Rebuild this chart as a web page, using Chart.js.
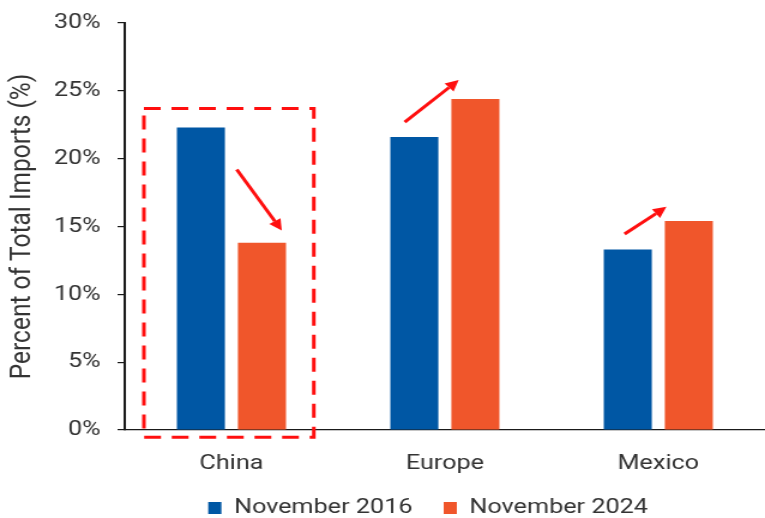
<!DOCTYPE html>
<html><head><meta charset="utf-8">
<script src="https://cdn.jsdelivr.net/npm/chart.js@4.4.1/dist/chart.umd.min.js"></script>
<style>
html,body{margin:0;padding:0;background:#fff;overflow:hidden;width:765px;height:518px}
#wrap{width:638px;height:518px;transform:scaleX(1.19906);transform-origin:0 0}
canvas{display:block}
</style></head><body>
<div id="wrap"><canvas id="c" width="638" height="518"></canvas></div>
<script>
// ---- data ----
const categories = ['China', 'Europe', 'Mexico'];
const seriesNames = ['November 2016', 'November 2024'];
const values2016 = [22.3, 21.6, 13.3];
const values2024 = [13.8, 24.4, 15.4];
const yTickValues = [0, 5, 10, 15, 20, 25, 30];
const arrowFromValues = [19.2, 22.7, 14.45];
const arrowToValues = [14.7, 25.8, 16.45];
const highlighted = 'China';

// ---- layout / style ----
const H = 518, PLOT_TOP = 23, PLOT_BOTTOM = 430, Y_AXIS_W = 104;
const BLUE = '#0057a4', ORANGE = '#f0562b', RED = '#ff0f0f', TEXT = '#333333', AXIS = '#1a1a1a';
const FONT = 'Roboto, "Noto Sans", sans-serif';
const arrowOffsets = [[0.025, 0.236], [-0.188, 0.065], [-0.158, 0.038]];

function drawArrow(ctx, x0, y0, x1, y1) {
  const a = Math.atan2(y1 - y0, x1 - x0), hl = 11, hw = 5.5;
  const bx = x1 - hl * Math.cos(a), by = y1 - hl * Math.sin(a);
  ctx.setLineDash([]);
  ctx.strokeStyle = RED; ctx.fillStyle = RED; ctx.lineWidth = 3;
  ctx.beginPath(); ctx.moveTo(x0, y0); ctx.lineTo(bx, by); ctx.stroke();
  ctx.beginPath(); ctx.moveTo(x1, y1);
  ctx.lineTo(bx + hw * Math.sin(a), by - hw * Math.cos(a));
  ctx.lineTo(bx - hw * Math.sin(a), by + hw * Math.cos(a));
  ctx.closePath(); ctx.fill();
}

const annotate = {
  id: 'annotate',
  afterDraw(chart) {
    const { ctx, scales: { x, y } } = chart;
    const cw = (x.right - x.left) / categories.length;
    ctx.save();
    const ci = categories.indexOf(highlighted);
    const cx = x.getPixelForValue(ci);
    const x0 = cx - 0.41 * cw, x1 = cx + 0.386 * cw;
    const y0 = y.getPixelForValue(23.7), y1 = y.getPixelForValue(-0.54);
    ctx.strokeStyle = RED; ctx.lineWidth = 3; ctx.setLineDash([14, 9]);
    ctx.strokeRect(x0, y0, x1 - x0, y1 - y0);
    categories.forEach((c, i) => {
      const px = x.getPixelForValue(i);
      drawArrow(ctx,
        px + arrowOffsets[i][0] * cw, y.getPixelForValue(arrowFromValues[i]),
        px + arrowOffsets[i][1] * cw, y.getPixelForValue(arrowToValues[i]));
    });
    ctx.restore();
  }
};

const legendPlace = {
  id: 'legendPlace',
  afterLayout(chart) {
    const lg = chart.legend;
    if (lg) {
      const dx = 38, centerY = 508;
      const pad = lg.options.labels.padding, ih = 21;
      const dy = (centerY - pad - ih / 2) - lg.top;
      lg.left += dx; lg.right += dx; lg.top += dy; lg.bottom += dy;
    }
    // let the category labels use the room under the axis
    const x = chart.scales.x;
    x.bottom = x.top + 60;
  }
};

new Chart(document.getElementById('c'), {
  type: 'bar',
  data: {
    labels: categories,
    datasets: [
      { label: seriesNames[0], data: values2016, backgroundColor: BLUE, borderWidth: 0 },
      { label: seriesNames[1], data: values2024, backgroundColor: ORANGE, borderWidth: 0 }
    ]
  },
  options: {
    responsive: false,
    animation: false,
    events: [],
    layout: { padding: { top: PLOT_TOP, left: 0, right: 0, bottom: 0 } },
    datasets: { bar: { categoryPercentage: 0.572, barPercentage: 0.787 } },
    plugins: {
      tooltip: { enabled: false },
      legend: {
        position: 'bottom',
        labels: {
          boxWidth: 11, boxHeight: 12, padding: 26, color: TEXT,
          font: { family: FONT, size: 21 }
        }
      }
    },
    scales: {
      x: {
        grid: { display: false, drawTicks: false },
        border: { display: true, color: AXIS, width: 1.2 },
        ticks: { color: TEXT, padding: 21, font: { family: FONT, size: 21 } },
        afterFit(axis) {
          const lh = axis.chart.legend ? axis.chart.legend.height : 0;
          axis.height = H - PLOT_BOTTOM - lh;
          axis.paddingLeft = 0; axis.paddingRight = 0;
        }
      },
      y: {
        min: 0, max: 30,
        afterBuildTicks(axis) { axis.ticks = yTickValues.map(v => ({ value: v })); },
        grid: { drawOnChartArea: false, drawTicks: true, tickLength: 6, color: AXIS, lineWidth: 1.2 },
        border: { display: true, color: AXIS, width: 2 },
        ticks: { color: TEXT, padding: 14, font: { family: FONT, size: 21 }, callback: v => v + '%' },
        title: {
          display: true, text: 'Percent of Total Imports (%)', color: TEXT,
          font: { family: FONT, size: 24.5 }, padding: { top: 4, bottom: 0 }
        },
        afterFit(axis) { axis.width = Y_AXIS_W; axis.paddingTop = 0; axis.paddingBottom = 0; }
      }
    }
  },
  plugins: [annotate, legendPlace]
});
</script>
</body></html>
